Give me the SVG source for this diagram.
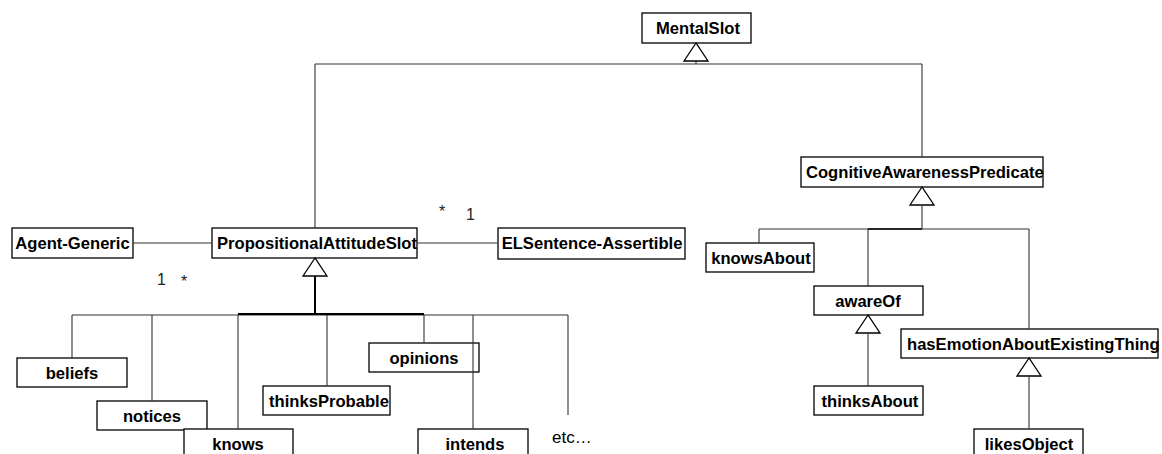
<svg xmlns="http://www.w3.org/2000/svg" width="1162" height="454" viewBox="0 0 1162 454">
<style>
.box{fill:#fff;stroke:#000;stroke-width:1.3}
.lbl{font-family:"Liberation Sans",Arial,sans-serif;font-weight:bold;font-size:16.6px;fill:#000}
.mid{text-anchor:middle}
.ln{fill:none;stroke:#333;stroke-width:1.1}
.thick{fill:none;stroke:#000;stroke-width:2}
.tri{fill:#fff;stroke:#000;stroke-width:1.3}
.mult{font-family:"Liberation Sans",Arial,sans-serif;font-size:16px;fill:#222}
.etc{font-family:"Liberation Sans",Arial,sans-serif;font-size:17px;fill:#000}
</style>
<defs>
<polygon id="gen" class="tri" points="0,0 -12,18 12,18"/>
</defs>
<rect width="1162" height="454" fill="#fff"/>

<g id="MentalSlot"><rect class="box" x="642" y="13" width="109" height="30"/><text class="lbl mid" x="698" y="34">MentalSlot</text></g>
<g id="AgentGeneric"><rect class="box" x="12" y="228" width="121" height="30"/><text class="lbl mid" x="72.5" y="249">Agent-Generic</text></g>
<g id="PropositionalAttitudeSlot"><rect class="box" x="212" y="228" width="205" height="30"/><text class="lbl" x="217" y="249">PropositionalAttitudeSlot</text></g>
<g id="ELSentenceAssertible"><rect class="box" x="498" y="228" width="187" height="31"/><text class="lbl mid" x="592" y="249">ELSentence-Assertible</text></g>
<g id="CognitiveAwarenessPredicate"><rect class="box" x="801" y="157" width="242" height="30"/><text class="lbl" x="806" y="178">CognitiveAwarenessPredicate</text></g>
<g id="knowsAbout"><rect class="box" x="706" y="243" width="108" height="29"/><text class="lbl mid" x="761" y="264">knowsAbout</text></g>
<g id="awareOf"><rect class="box" x="814" y="286" width="109" height="29"/><text class="lbl mid" x="868" y="306.5">awareOf</text></g>
<g id="thinksAbout"><rect class="box" x="814" y="386" width="109" height="29"/><text class="lbl mid" x="870" y="406.5">thinksAbout</text></g>
<g id="hasEmotionAboutExistingThing"><rect class="box" x="901" y="329" width="257" height="29"/><text class="lbl" x="907" y="350">hasEmotionAboutExistingThing</text></g>
<g id="likesObject"><rect class="box" x="974" y="429" width="109" height="30"/><text class="lbl mid" x="1029" y="449.5">likesObject</text></g>
<g id="beliefs"><rect class="box" x="17" y="358" width="110" height="29"/><text class="lbl mid" x="72" y="378.5">beliefs</text></g>
<g id="notices"><rect class="box" x="97" y="401" width="110" height="29"/><text class="lbl mid" x="152" y="421.5">notices</text></g>
<g id="knows"><rect class="box" x="184" y="429" width="109" height="30"/><text class="lbl mid" x="238" y="449.5">knows</text></g>
<g id="thinksProbable"><rect class="box" x="263" y="386" width="127" height="29"/><text class="lbl mid" x="329" y="406.5">thinksProbable</text></g>
<g id="opinions"><rect class="box" x="369" y="343" width="110" height="29"/><text class="lbl mid" x="424" y="363.5">opinions</text></g>
<g id="intends"><rect class="box" x="418" y="429" width="110" height="30"/><text class="lbl mid" x="475" y="449.5">intends</text></g>

<g id="connectors">
<path class="ln" d="M696,61V64M315,64H922M315,64V228M922,64V157"/>
<use href="#gen" x="696" y="43"/>
<path class="ln" d="M133,243H212M417,243H498"/>
<use href="#gen" x="315" y="258"/>
<path class="thick" d="M315,276V315"/>
<path class="ln" d="M72,315H568M72,315V358M152,315V401M238,315V429M327,315V386M424,315V343M473,315V429M568,315V415"/>
<path class="thick" d="M238,314H424"/>
<use href="#gen" x="922" y="187"/>
<path class="ln" d="M922,205V229M759,229H1029M759,229V243M868,229V286M1029,229V329"/>
<path class="thick" d="M868,229H922" style="stroke-width:1.5"/>
<use href="#gen" x="868" y="315"/>
<path class="ln" d="M868,333V386"/>
<use href="#gen" x="1029" y="358"/>
<path class="ln" d="M1029,376V429"/>
</g>

<text class="mult" x="157" y="285">1</text>
<text class="mult" x="181" y="287">*</text>
<text class="mult" x="439" y="217">*</text>
<text class="mult" x="466" y="220">1</text>
<text class="etc" x="552" y="443">etc…</text>
</svg>
